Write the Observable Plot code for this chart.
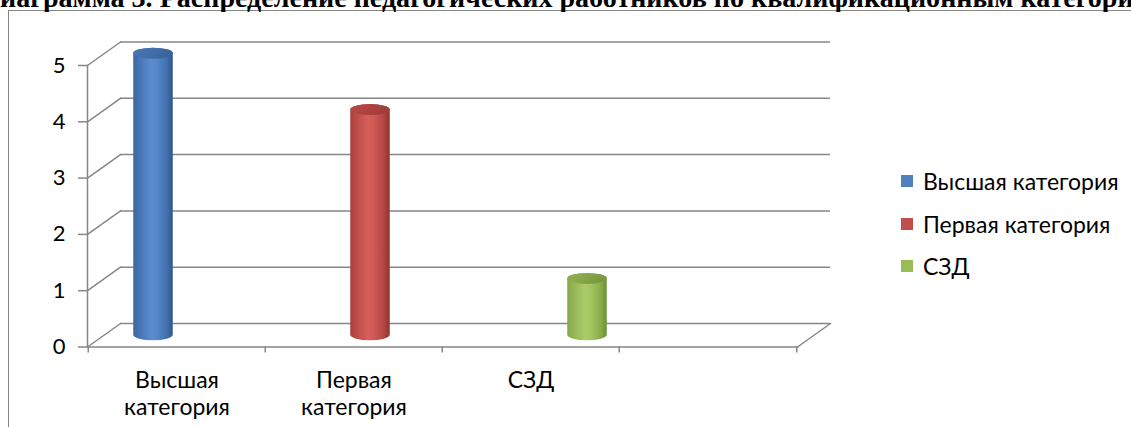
<!DOCTYPE html>
<html><head><meta charset="utf-8">
<script src="https://cdn.jsdelivr.net/npm/d3@7"></script>
<script src="https://cdn.jsdelivr.net/npm/@observablehq/plot@0.6"></script>
<style>
body{margin:0;background:#fff;overflow:hidden}
#wrap{position:relative;width:1131px;height:427px;overflow:hidden;background:#fff}
#frame{position:absolute;left:8px;top:10px;width:1200px;height:500px;border-left:1.5px solid #868686;border-top:1.5px solid #868686}
#title{position:absolute;left:0;top:0}
#chart{position:absolute;left:0;top:0}
#legend{position:absolute;left:901px;top:0;font-family:Lato,sans-serif;font-size:23px;color:#000}
#legend .item{position:absolute;left:0;display:flex;align-items:center;height:30px;white-space:nowrap}
#legend .sw{width:12px;height:12px;margin-right:10px;flex:none}
</style></head>
<body>
<div id="wrap">
  <div id="frame"></div>
  <svg id="title" width="1131" height="12"><text id="ttext" y="7" font-family="Liberation Serif" font-weight="bold"></text></svg>
  <div id="chart"></div>
  <div id="legend"></div>
</div>
<script>
const titleText = "Диаграмма 3. Распределение педагогических работников по квалификационным категориям";
const categories = ["Высшая категория", "Первая категория", "СЗД", ""];
const series = ["Высшая категория", "Первая категория", "СЗД"];
const values = [5, 4, 1];
const seriesColors = ["#4F81BD", "#C0504D", "#9BBB59"];
const yTicks = [0, 1, 2, 3, 4, 5];

// gradient stops for cylinder bodies and caps
const bodyStops = [
  ["#3A66A0", "#4673B2", "#5A8CD0", "#5687CA", "#4370AE", "#2F5589"],
  ["#A8403D", "#BC4B48", "#D55F5B", "#CF5955", "#B04542", "#8E3532"],
  ["#86A748", "#93B554", "#AACB67", "#A4C661", "#8AAB4B", "#6F8E38"]
];
const capStops = [
  ["#4A78B6", "#4270AC", "#3A639B"],
  ["#B84A47", "#AE4441", "#9F3D3A"],
  ["#92B351", "#86A648", "#789740"]
];
const stopOffsets = [0, 0.15, 0.45, 0.6, 0.85, 1];

// title: fit the visible part ("иаграмма ... категори") to the window width
(function(){
  const c = document.createElement("canvas").getContext("2d");
  c.font = "bold 100px 'Liberation Serif'";
  const visible = titleText.slice(1, titleText.length - 2);
  const fs = 100 * 1134 / c.measureText(visible).width;
  const shift = c.measureText(titleText[0]).width * fs / 100;
  const t = document.getElementById("ttext");
  t.setAttribute("font-size", fs);
  t.setAttribute("x", -shift);
  t.textContent = titleText;
})();

const rows = series.map((s, i) => ({category: categories[i], series: s, value: values[i]}));

const W = 1131, H = 427;
const mL = 87, mR = 334, mT = 65, mB = 80.5;
const depthX = 33, depthY = -23.5;
const barW = 40, capR = 5.5;
const bw = (W - mL - mR) / categories.length;
const inset = (bw - barW) / 2;
const gridColor = "#868686";
const depthLen = Math.hypot(depthX, depthY);
const depthAngle = Math.atan2(depthX, -depthY) * 180 / Math.PI;
const lineShape = {draw(ctx, l) { ctx.moveTo(0, 0); ctx.lineTo(0, -l); }};

function defsMark() {
  const defs = d3.create("svg:defs");
  series.forEach((s, i) => {
    const g = defs.append("linearGradient").attr("id", "body" + i).attr("x1", 0).attr("x2", 1).attr("y1", 0).attr("y2", 0);
    bodyStops[i].forEach((c, k) => g.append("stop").attr("offset", stopOffsets[k]).attr("stop-color", c));
    const gc = defs.append("linearGradient").attr("id", "cap" + i).attr("x1", 0).attr("x2", 1).attr("y1", 0).attr("y2", 0.3);
    capStops[i].forEach((c, k) => gc.append("stop").attr("offset", k / 2).attr("stop-color", c));
  });
  return defs.node();
}

const cylinders = rows.flatMap((row, i) => {
  const off = (i - (series.length - 1) / 2) * barW + depthX / 2;
  const common = {x: "category", insetLeft: inset, insetRight: inset, insetTop: -capR, insetBottom: -capR,
                  rx: barW / 2, ry: capR, dx: off, dy: depthY / 2};
  return [
    Plot.barY([row], {...common, y: "value", fill: `url(#body${i})`}),
    Plot.barY([row], {...common, y1: "value", y2: "value", fill: `url(#cap${i})`})
  ];
});

const chart = Plot.plot({
  width: W, height: H,
  marginLeft: mL, marginRight: mR, marginTop: mT, marginBottom: mB,
  style: {fontFamily: "Lato, sans-serif", background: "transparent", overflow: "visible", color: "#000"},
  x: {type: "band", domain: categories, padding: 0},
  y: {domain: [0, 5]},
  marks: [
    defsMark,
    Plot.ruleY(yTicks, {y: d => d, dx: depthX, dy: depthY, stroke: gridColor, strokeWidth: 1.5}),
    Plot.vector(yTicks, {y: d => d, frameAnchor: "left", length: depthLen, rotate: depthAngle, anchor: "start",
                         shape: lineShape, stroke: gridColor, strokeWidth: 1.5}),
    Plot.vector([0], {y: d => d, frameAnchor: "right", length: depthLen, rotate: depthAngle, anchor: "start",
                      shape: lineShape, stroke: gridColor, strokeWidth: 1.5}),
    Plot.frame({anchor: "left", stroke: gridColor, strokeWidth: 1.5}),
    Plot.frame({anchor: "bottom", stroke: gridColor, strokeWidth: 1.5}),
    Plot.ruleX(categories, {x: d => d, y1: 0, y2: 0, dx: -bw / 2, insetBottom: -6, stroke: gridColor, strokeWidth: 1.5}),
    Plot.ruleX(categories.slice(-1), {x: d => d, y1: 0, y2: 0, dx: bw / 2, insetBottom: -6, stroke: gridColor, strokeWidth: 1.5}),
    Plot.axisY({ticks: yTicks, tickSize: 9, tickPadding: 13, fontSize: 22, stroke: gridColor, strokeWidth: 1.5,
                fill: "#000", tickFormat: d => String(d), label: null}),
    Plot.axisX({tickSize: 0, tickPadding: 21, fontSize: 23, lineHeight: 1.2, fill: "#000",
                tickFormat: d => d.replace(" ", "\n"), label: null}),
    ...cylinders
  ]
});
document.getElementById("chart").appendChild(chart);

const legend = document.getElementById("legend");
const legendCenters = [181, 224, 266];
series.forEach((s, i) => {
  const it = document.createElement("div");
  it.className = "item";
  it.style.top = (legendCenters[i] - 15) + "px";
  it.innerHTML = `<span class="sw" style="background:${seriesColors[i]}"></span><span>${s}</span>`;
  legend.appendChild(it);
});
</script>
</body></html>
